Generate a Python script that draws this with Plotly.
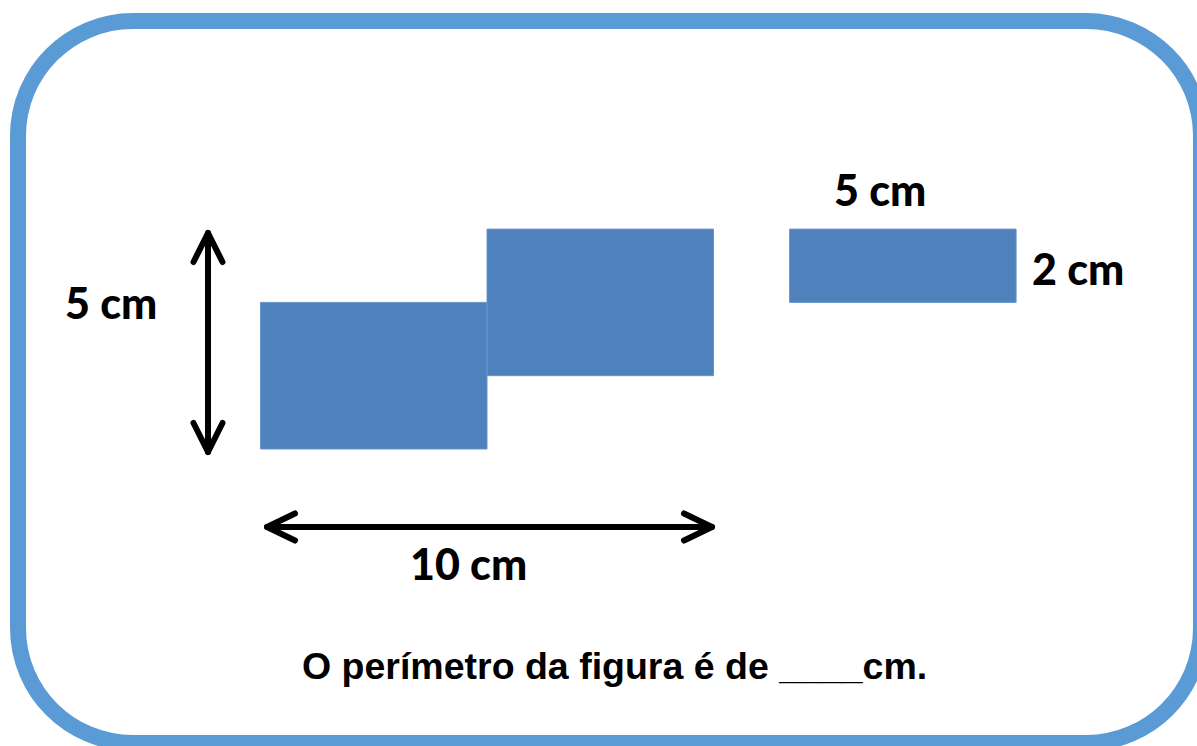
import plotly.graph_objects as go

# ---------------- data (units: cm-like grid units) ----------------
piece_names = ["left block", "upper block", "small block"]
piece_x0 = [0.0, 5.0, 11.68]
piece_y0 = [0.0, 2.0, 4.0]
piece_w = [5.0, 5.0, 5.0]
piece_h = [4.0, 4.0, 2.0]

label_texts = ["5 cm", "10 cm", "5 cm", "2 cm"]
question_text = "O perímetro da figura é de ____cm."

# ---------------- layout constants ----------------
W, H = 1197, 746
SX, SY = 45.3, 36.65          # px per unit
OX, OY = 260.5, 449.0         # pixel position of the origin

BLUE_FILL = "#4F81BD"
BORDER = "#5B9BD5"


def ux(px):
    return (px - OX) / SX


def uy(py):
    return (OY - py) / SY


def paper(px, py):
    return px / W, 1 - py / H


fig = go.Figure()

# ---------------- pieces ----------------
shapes = []
for name, x0, y0, w, h in zip(piece_names, piece_x0, piece_y0, piece_w, piece_h):
    shapes.append(dict(type="rect", xref="x", yref="y", x0=x0, y0=y0, x1=x0 + w, y1=y0 + h,
                       fillcolor=BLUE_FILL, line=dict(color="#6A95C8", width=1), layer="below"))

# ---------------- rounded border ----------------
L, T, R, B, r = 18, 21, 1201, 743, 115
k = 0.5523 * r


def P(px, py):
    a, b = paper(px, py)
    return f"{a:.5f},{b:.5f}"


path = (f"M {P(L + r, T)} L {P(R - r, T)} "
        f"C {P(R - r + k, T)} {P(R, T + r - k)} {P(R, T + r)} "
        f"L {P(R, B - r)} "
        f"C {P(R, B - r + k)} {P(R - r + k, B)} {P(R - r, B)} "
        f"L {P(L + r, B)} "
        f"C {P(L + r - k, B)} {P(L, B - r + k)} {P(L, B - r)} "
        f"L {P(L, T + r)} "
        f"C {P(L, T + r - k)} {P(L + r - k, T)} {P(L + r, T)} Z")
shapes.append(dict(type="path", xref="paper", yref="paper", path=path,
                   line=dict(color=BORDER, width=16), fillcolor="rgba(0,0,0,0)"))

# ---------------- dimension arrows ----------------
# vertical arrow
vx = ux(208)
vy0, vy1 = uy(452), uy(233)
arm_dx, arm_dy = 14.5 / SX, 29 / SY
fig.add_trace(go.Scatter(x=[vx, vx], y=[vy0, vy1], mode="lines",
                         line=dict(color="black", width=6), hoverinfo="skip", showlegend=False))
for tip, sgn in [(vy1, -1), (vy0, 1)]:
    fig.add_trace(go.Scatter(x=[vx - arm_dx, vx, vx + arm_dx],
                             y=[tip + sgn * arm_dy, tip, tip + sgn * arm_dy],
                             mode="lines", line=dict(color="black", width=6),
                             hoverinfo="skip", showlegend=False))

# horizontal arrow
hy = uy(527)
hx0, hx1 = ux(267), ux(712)
adx, ady = 28 / SX, 13.5 / SY
fig.add_trace(go.Scatter(x=[hx0, hx1], y=[hy, hy], mode="lines",
                         line=dict(color="black", width=6), hoverinfo="skip", showlegend=False))
for tip, sgn in [(hx0, 1), (hx1, -1)]:
    fig.add_trace(go.Scatter(x=[tip + sgn * adx, tip, tip + sgn * adx],
                             y=[hy + ady, hy, hy - ady],
                             mode="lines", line=dict(color="black", width=6),
                             hoverinfo="skip", showlegend=False))

# ---------------- labels ----------------
label_pos = [(111, 302), (468, 563), (880, 190), (1078, 268)]
annotations = []
for txt, (px, py) in zip(label_texts, label_pos):
    a, b = paper(px, py)
    annotations.append(dict(text=txt, x=a, y=b, xref="paper", yref="paper",
                            xanchor="center", yanchor="middle", showarrow=False,
                            font=dict(family="Lato", size=43, color="black", weight=900)))
a, b = paper(614, 666)
annotations.append(dict(text=question_text, x=a, y=b, xref="paper", yref="paper",
                        xanchor="center", yanchor="middle", showarrow=False,
                        font=dict(family="Liberation Sans", size=37.5, color="black", weight="bold")))

fig.update_layout(
    width=W, height=H,
    margin=dict(l=0, r=0, t=0, b=0),
    paper_bgcolor="white", plot_bgcolor="white",
    shapes=shapes, annotations=annotations,
    xaxis=dict(range=[ux(0), ux(W)], visible=False, fixedrange=True),
    yaxis=dict(range=[uy(H), uy(0)], visible=False, fixedrange=True),
    showlegend=False,
)

post = ("document.body.style.margin='0';document.body.style.overflow='hidden';"
        "document.querySelectorAll('.scatterlayer path.js-line').forEach(function(p){"
        "p.style.strokeLinecap='round';p.style.strokeLinejoin='round';});")
fig.write_html("out.html", config={"displayModeBar": False}, post_script=post)
